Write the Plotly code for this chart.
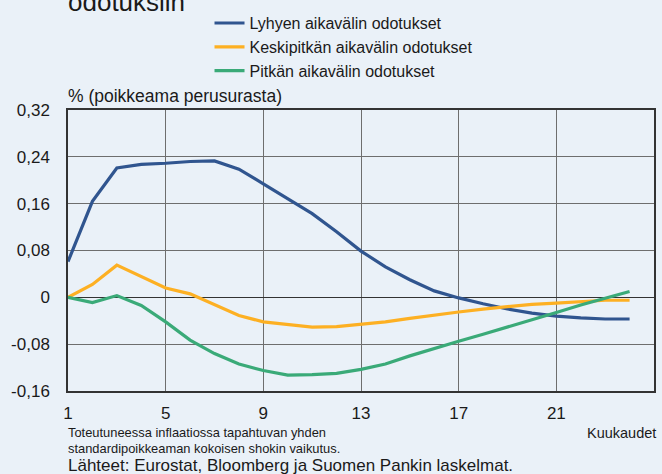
import plotly.graph_objects as go

months = list(range(1, 25))
lyhyen = [0.061, 0.164, 0.221, 0.227, 0.229, 0.232, 0.233, 0.219, 0.194, 0.168, 0.143, 0.112,
          0.079, 0.052, 0.030, 0.011, -0.001, -0.011, -0.020, -0.027, -0.032, -0.035, -0.037, -0.037]
keskipitka = [0.0, 0.022, 0.055, 0.036, 0.016, 0.006, -0.012, -0.031, -0.042, -0.047, -0.051, -0.050,
              -0.046, -0.042, -0.036, -0.030, -0.025, -0.020, -0.016, -0.012, -0.010, -0.007, -0.005, -0.005]
pitka = [0.0, -0.009, 0.003, -0.014, -0.042, -0.073, -0.096, -0.114, -0.125, -0.133, -0.132, -0.130,
         -0.123, -0.114, -0.100, -0.087, -0.075, -0.063, -0.051, -0.038, -0.026, -0.013, -0.001, 0.010]

series_names = ["Lyhyen aikavälin odotukset", "Keskipitkän aikavälin odotukset", "Pitkän aikavälin odotukset"]
series_colors = ["#30558f", "#fdb023", "#3aaa78"]

y_tickvals = [-0.16, -0.08, 0, 0.08, 0.16, 0.24, 0.32]
y_ticktext = ["-0,16", "-0,08", "0", "0,08", "0,16", "0,24", "0,32"]
x_tickvals = [1, 5, 9, 13, 17, 21]

BG = "#eaf1f8"
FONT = "Liberation Sans, Arial, sans-serif"

# plot area in pixels
L, R, T, B = 68, 6, 107, 83
W, H = 662, 474
PW, PH = W - L - R, H - T - B


def px(x):
    return (x - L) / PW


def py(y):
    return (H - B - y) / PH


fig = go.Figure()
for name, vals, col in zip(series_names, [lyhyen, keskipitka, pitka], series_colors):
    fig.add_trace(go.Scatter(x=months, y=vals, mode="lines", name=name,
                             line=dict(color=col, width=3.2)))

fig.update_layout(
    width=W, height=H,
    margin=dict(l=L, r=R, t=T, b=B),
    paper_bgcolor=BG, plot_bgcolor=BG,
    font=dict(family=FONT, size=17, color="#1a1a1a"),
    showlegend=True,
    legend=dict(x=px(210), y=py(2), xanchor="left", yanchor="top",
                bgcolor="rgba(0,0,0,0)", font=dict(size=16, color="#1a1a1a"),
                tracegroupgap=0, itemwidth=30),
    xaxis=dict(range=[1, 25], tickvals=x_tickvals, showgrid=True, gridcolor="#6e6e6e",
               gridwidth=1.3, showline=True, linecolor="#333333", linewidth=1.5, mirror=True,
               ticks="", zeroline=False, tickfont=dict(size=17), ticklabelstandoff=6),
    yaxis=dict(range=[-0.16, 0.32], tickvals=y_tickvals, ticktext=y_ticktext, showgrid=True,
               gridcolor="#6e6e6e", gridwidth=1.3, showline=True, linecolor="#333333",
               linewidth=1.5, mirror=True, ticks="", zeroline=True, zerolinecolor="#333333",
               zerolinewidth=1.3, tickfont=dict(size=17), ticklabelstandoff=13),
)

annotations = [
    dict(text="odotuksiin", x=px(66), y=py(-2.5), xanchor="left", yanchor="middle",
         font=dict(size=26)),
    dict(text="% (poikkeama perusurasta)", x=px(66), y=py(93), xanchor="left", yanchor="middle",
         font=dict(size=17.5)),
    dict(text="Toteutuneessa inflaatiossa tapahtuvan yhden", x=px(66), y=py(433),
         xanchor="left", yanchor="middle", font=dict(size=12.9)),
    dict(text="standardipoikkeaman kokoisen shokin vaikutus.", x=px(66), y=py(449.5),
         xanchor="left", yanchor="middle", font=dict(size=12.9)),
    dict(text="Lähteet: Eurostat, Bloomberg ja Suomen Pankin laskelmat.", x=px(66), y=py(466.5),
         xanchor="left", yanchor="middle", font=dict(size=17)),
    dict(text="Kuukaudet", x=px(660), y=py(433), xanchor="right", yanchor="middle",
         font=dict(size=14.5)),
]
for a in annotations:
    a.update(xref="paper", yref="paper", showarrow=False)
fig.update_layout(annotations=annotations)

fig.write_html("out.html", config={"displayModeBar": False},
               post_script="document.body.style.margin='0';document.body.style.overflow='hidden';")
